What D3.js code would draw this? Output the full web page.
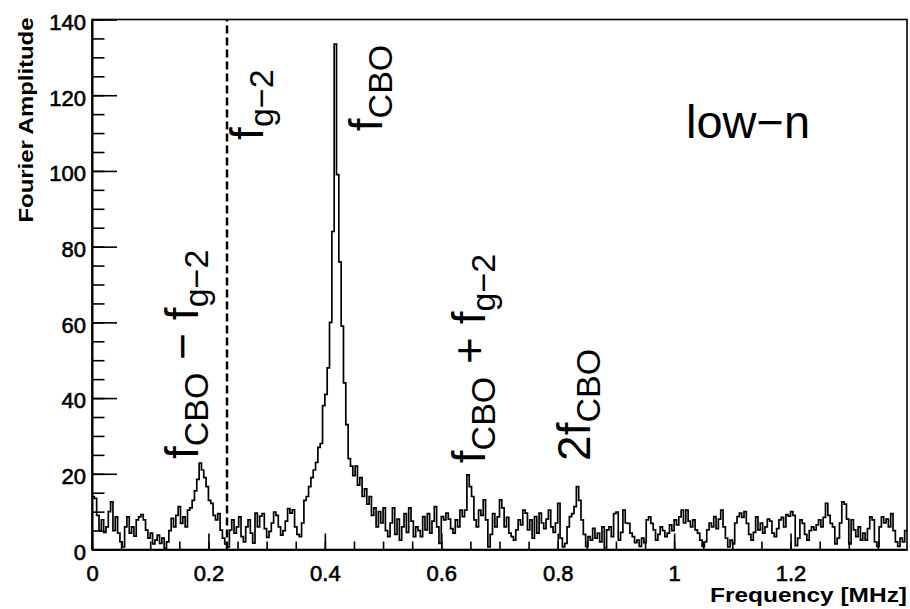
<!DOCTYPE html>
<html>
<head>
<meta charset="utf-8">
<script src="https://cdn.jsdelivr.net/npm/d3@7"></script>
<style>
body { margin: 0; background: #fff; }
text { font-family: "Liberation Sans", Arial, Helvetica, sans-serif; fill: #000; }
</style>
</head>
<body>
<script>
// spectrum bin width, MHz
var binWidth = 0.004;

// Fourier amplitude per bin
var amplitude = [
    14, 13.5, 9, 5, 7.8, 4.5, 6, 10, 12.6, 5,
    8.6, 4.3, 2, 0.7, 6, 8.6, 4.3, 6, 3.5, 7.8,
    8.6, 9.2, 7.8, 5.1, 3, 4.3, 1.5, 2.5, 3.8, 1.6,
    3, 0.3, 2, 5, 8.2, 6, 9, 11.3, 6.9, 8.6,
    6, 10.4, 11, 13, 15.5, 18.5, 22.8, 21, 19, 16.6,
    13, 12.2, 9, 7.8, 9.5, 5.1, 3, 1.5, 0.7, 5.1,
    7.8, 4.3, 6, 8.6, 3.4, 2, 6, 7.8, 4.3, 1.7,
    9.6, 6, 8.8, 9.5, 5.5, 3.2, 4.8, 7, 9.9, 9,
    6, 3.8, 5, 7.5, 10.8, 9.6, 10.5, 6, 4, 3.4,
    7, 13, 14, 16.6, 19, 21, 23, 27, 28, 38,
    41, 48, 60, 84, 133.5, 99, 76, 59, 44, 33,
    24, 22, 19.5, 22, 17, 19, 14, 16, 12, 14,
    9, 11, 6, 10, 7, 11, 5, 3.4, 7, 11,
    4, 8, 2.5, 6, 9.5, 4.5, 11, 7.5, 3.4, 6,
    5, 3.4, 8.7, 5.2, 9.5, 4.3, 7.5, 11.3, 6, 1.6,
    8.7, 7.8, 9.6, 8, 5.5, 4.3, 7.8, 6, 10.4, 8.7,
    10.4, 19.7, 16.6, 14, 7.8, 6, 10.4, 9, 13.1, 7.8,
    0.7, 4, 9.5, 6, 8.6, 13.1, 11, 6, 8.5, 4.3,
    3.4, 2.5, 5.2, 7.8, 6.5, 10.4, 9.6, 5.2, 7.8, 3,
    8.7, 4.3, 9.6, 7, 5.5, 8, 10.4, 6, 4.5, 7,
    12.2, 3, 0.7, 1.6, 6, 8.7, 9.5, 11.3, 16.6, 13,
    7.8, 4, 0.8, 3.4, 2.5, 5.6, 3, 4.3, 2, 6,
    0.4, 5.2, 6, 3.4, 9.5, 9.9, 2.5, 4.5, 10.4, 7,
    6.9, 4.3, 3.4, 1.8, 2.5, 0.8, 3, 1.8, 7.8, 8.6,
    6.9, 5.2, 2.5, 4, 6, 5, 3.4, 4.3, 6.5, 5,
    7.8, 6.5, 8.6, 10.4, 7, 10.4, 7.5, 6, 7.8, 5.2,
    4.3, 2.5, 0.8, 2, 5.2, 7, 6, 8.7, 5.5, 8,
    10.4, 6, 3, 0.7, 2.5, 1.5, 7, 8.7, 9.6, 8.5,
    10, 6.9, 4, 2.5, 4.5, 8.6, 5.2, 7, 4.3, 6,
    8, 7.5, 4.3, 3.4, 5.5, 7.8, 8.5, 6, 9.2, 8.8,
    10, 9, 1, 3, 7.8, 6.9, 4, 2.5, 5, 6,
    5.2, 6.5, 7.8, 6, 8.5, 12.2, 9, 6.9, 6, 1.5,
    3, 7, 12.6, 12, 8, 1.5, 7.8, 5.2, 3.4, 6,
    2.5, 4.3, 2.5, 5.5, 8.6, 7.8, 2, 0.8, 6, 8.6,
    7, 8, 6, 9.5, 5, 2, 0.8, 3, 2, 5
];

// axis ticks
var xTickValues = [0, 0.2, 0.4, 0.6, 0.8, 1, 1.2];
var xTickLabels = ["0", "0.2", "0.4", "0.6", "0.8", "1", "1.2"];
var yTickValues = [0, 20, 40, 60, 80, 100, 120, 140];
var yTickLabels = ["0", "20", "40", "60", "80", "100", "120", "140"];

// f_g-2 marker frequency, MHz
var fg2 = 0.232;

var width = 910,
    height = 609;

var margin = {left: 92, right: 3, top: 19.5, bottom: 59.5};

var svg = d3.select("body")
    .append("svg")
    .attr("width", width)
    .attr("height", height);

var x = d3.scaleLinear()
    .domain([0, 1.4])
    .range([margin.left, width - margin.right]);

var y = d3.scaleLinear()
    .domain([0, 140])
    .range([height - margin.bottom, margin.top]);

svg.append("clipPath")
    .attr("id", "plot")
    .append("rect")
    .attr("x", x(0))
    .attr("y", y(140))
    .attr("width", x(1.4) - x(0))
    .attr("height", y(0) - y(140));

//histogram outline
var points = amplitude.map(function(v, i){
    return [i * binWidth, v];
});
points.push([amplitude.length * binWidth, amplitude[amplitude.length - 1]]);

var step = d3.line()
    .x(function(d){ return x(d[0]); })
    .y(function(d){ return y(d[1]); })
    .curve(d3.curveStepAfter);

svg.append("path")
    .datum(points)
    .attr("clip-path", "url(#plot)")
    .attr("d", step)
    .attr("fill", "none")
    .attr("stroke", "#000")
    .attr("stroke-width", 1.7);

//dashed f_g-2 line
var xg = Math.round(x(fg2));
svg.append("line")
    .attr("x1", xg)
    .attr("x2", xg)
    .attr("y1", y(0))
    .attr("y2", y(140))
    .attr("stroke", "#000")
    .attr("stroke-width", 2.5)
    .attr("stroke-dasharray", "8,4");

//frame
svg.append("rect")
    .attr("x", x(0))
    .attr("y", y(140))
    .attr("width", x(1.4) - x(0))
    .attr("height", y(0) - y(140))
    .attr("fill", "none")
    .attr("stroke", "#000")
    .attr("stroke-width", 1.6);

//minor ticks
svg.append("g")
    .attr("transform", "translate(0," + y(0) + ")")
    .call(d3.axisBottom(x)
        .tickValues(d3.range(0, 1.4, 0.05))
        .tickSizeInner(-8)
        .tickSizeOuter(0)
        .tickFormat(""))
    .call(styleAxis);

svg.append("g")
    .attr("transform", "translate(" + x(0) + ",0)")
    .call(d3.axisLeft(y)
        .tickValues(d3.range(0, 141, 5))
        .tickSizeInner(-12.5)
        .tickSizeOuter(0)
        .tickFormat(""))
    .call(styleAxis);

//major ticks with labels
var xAxis = svg.append("g")
    .attr("transform", "translate(0," + y(0) + ")")
    .call(d3.axisBottom(x)
        .tickValues(xTickValues)
        .tickSizeInner(-16)
        .tickSizeOuter(0)
        .tickPadding(16)
        .tickFormat(function(d, i){ return xTickLabels[i]; }))
    .call(styleAxis);

var yAxis = svg.append("g")
    .attr("transform", "translate(" + x(0) + ",0)")
    .call(d3.axisLeft(y)
        .tickValues(yTickValues)
        .tickSizeInner(-25)
        .tickSizeOuter(0)
        .tickPadding(6)
        .tickFormat(function(d, i){ return yTickLabels[i]; }))
    .call(styleAxis);
yAxis.selectAll("text").attr("dy", "0.45em");

function styleAxis(g){
    g.select(".domain").attr("stroke", "#000").attr("stroke-width", 1.6);
    g.selectAll(".tick line").attr("stroke", "#000").attr("stroke-width", 1.6);
    g.selectAll("text")
        .attr("font-size", 22)
        .attr("font-family", "Liberation Sans, Arial, sans-serif")
        .attr("fill", "#000")
        .attr("stroke", "#000")
        .attr("stroke-width", 0.6);
}

//axis titles
svg.append("text")
    .attr("x", x(1.4))
    .attr("y", 602)
    .attr("text-anchor", "end")
    .attr("font-size", 20)
    .attr("font-weight", "bold")
    .attr("textLength", 197)
    .attr("lengthAdjust", "spacingAndGlyphs")
    .text("Frequency [MHz]");

svg.append("text")
    .attr("transform", "translate(33," + (y(140) - 2) + ") rotate(-90)")
    .attr("text-anchor", "end")
    .attr("font-size", 20)
    .attr("font-weight", "bold")
    .attr("textLength", 205)
    .attr("lengthAdjust", "spacingAndGlyphs")
    .text("Fourier Amplitude");

//peak annotations, rotated; each part is [text, isSubscript]
function label(fx, fv, parts){
    var t = svg.append("text")
        .attr("transform", "translate(" + x(fx) + "," + y(fv) + ") rotate(-90)")
        .attr("font-size", 46);
    var inSub = false;
    parts.forEach(function(p){
        var s = t.append("tspan").text(p[0]);
        if (p[1] && !inSub) s.attr("dy", 10);
        if (!p[1] && inSub) s.attr("dy", -10);
        if (p[1]) s.attr("font-size", 34);
        inSub = p[1];
    });
}

label(0.182, 23.9, [["f", false], ["CBO", true], [" \u2212 f", false], ["g\u22122", true]]);
label(0.294, 108.2, [["f", false], ["g\u22122", true]]);
label(0.498, 110.5, [["f", false], ["CBO", true]]);
label(0.675, 22.8, [["f", false], ["CBO", true], [" + f", false], ["g\u22122", true]]);
label(0.8555, 23.4, [["2f", false], ["CBO", true]]);

svg.append("text")
    .attr("x", x(1.0205))
    .attr("y", y(108.7))
    .attr("font-size", 46)
    .attr("textLength", 124)
    .attr("lengthAdjust", "spacingAndGlyphs")
    .text("low\u2212n");
</script>
</body>
</html>
